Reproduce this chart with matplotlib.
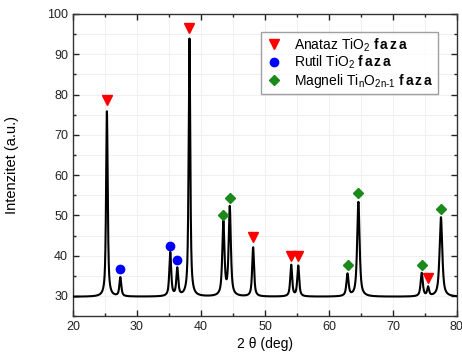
import numpy as np
import matplotlib
matplotlib.use("Agg")
import matplotlib.pyplot as plt
from matplotlib.ticker import MultipleLocator

plt.rcParams['font.family'] = ['Liberation Sans', 'DejaVu Sans']
plt.rcParams['mathtext.fontset'] = 'custom'
plt.rcParams['mathtext.rm'] = 'Liberation Sans'
plt.rcParams['mathtext.it'] = 'Liberation Sans:italic'
plt.rcParams['mathtext.bf'] = 'Liberation Sans:bold'

# Diffraction peaks: position (deg), height above background, FWHM (deg)
peak_pos = [25.3, 27.4, 35.2, 36.3, 38.2, 43.5, 44.5, 48.15, 54.1, 55.2,
            62.9, 64.6, 74.5, 75.5, 77.5]
peak_height = [46.0, 4.7, 10.9, 6.8, 64.0, 18.2, 22.0, 12.2, 7.8, 7.6,
               5.5, 23.5, 5.8, 2.2, 19.7]
peak_fwhm = [0.3, 0.35, 0.35, 0.35, 0.3, 0.4, 0.4, 0.35, 0.35, 0.35,
             0.4, 0.45, 0.4, 0.35, 0.5]
background = 29.8

# Phase markers (2theta, intensity)
anatase_x = [25.3, 38.2, 48.15, 54.1, 55.2, 75.5]
anatase_y = [78.6, 96.4, 44.7, 39.8, 39.8, 34.4]
rutile_x = [27.4, 35.2, 36.3]
rutile_y = [36.7, 42.3, 39.0]
magneli_x = [43.5, 44.5, 62.9, 64.6, 74.5, 77.5]
magneli_y = [50.1, 54.4, 37.8, 55.5, 37.7, 51.6]

two_theta = np.linspace(20, 80, 6000)
intensity = np.full_like(two_theta, background)
for c, h, w in zip(peak_pos, peak_height, peak_fwhm):
    g = np.exp(-4 * np.log(2) * ((two_theta - c) / w) ** 2)
    l = 1.0 / (1.0 + 4 * ((two_theta - c) / w) ** 2)
    intensity += h * (0.25 * g + 0.75 * l)

fig = plt.figure(figsize=(4.62, 3.58), dpi=100)
ax = fig.add_axes([0.158, 0.117, 0.831, 0.844])

ax.plot(two_theta, intensity, color='black', lw=1.5, zorder=3)
ax.plot(anatase_x, anatase_y, 'v', color='#ff0000', ms=7, ls='none', zorder=4,
        label=r'Anataz TiO$_2$ $\mathbf{f\,a\,z\,a}$')
ax.plot(rutile_x, rutile_y, 'o', color='#0000ff', ms=6, ls='none', zorder=4,
        label=r'Rutil TiO$_2$ $\mathbf{f\,a\,z\,a}$')
ax.plot(magneli_x, magneli_y, 'D', color='#1a8a1a', ms=5, ls='none', zorder=4,
        label=r'Magneli Ti$_\mathrm{n}$O$_\mathrm{2n\text{-}1}$ $\mathbf{f\,a\,z\,a}$')

ax.set_xlim(20, 80)
ax.set_ylim(25, 100)
ax.xaxis.set_major_locator(MultipleLocator(10))
ax.xaxis.set_minor_locator(MultipleLocator(5))
ax.yaxis.set_major_locator(MultipleLocator(10))
ax.yaxis.set_minor_locator(MultipleLocator(5))
ax.tick_params(which='both', direction='in', top=True, right=True,
               labelsize=9, colors='#222222')
ax.tick_params(which='major', length=4, width=1)
ax.tick_params(which='minor', length=2.5, width=1)
ax.grid(which='both', color='#ececec', lw=0.6, zorder=0)
for s in ax.spines.values():
    s.set_linewidth(1.0)
    s.set_color('#333333')

ax.set_xlabel('2 θ (deg)', fontsize=10, labelpad=3)
ax.set_ylabel('Intenzitet (a.u.)', fontsize=10.5, labelpad=20)

leg = ax.legend(loc='upper left', bbox_to_anchor=(0.49, 0.94), fontsize=10,
                frameon=True, fancybox=False, handletextpad=0.8,
                borderpad=0.3, labelspacing=0.02, handlelength=1.3,
                borderaxespad=0.0)
leg.get_frame().set_edgecolor('#888888')
leg.get_frame().set_linewidth(1.0)

fig.savefig('out.png', dpi=100)
